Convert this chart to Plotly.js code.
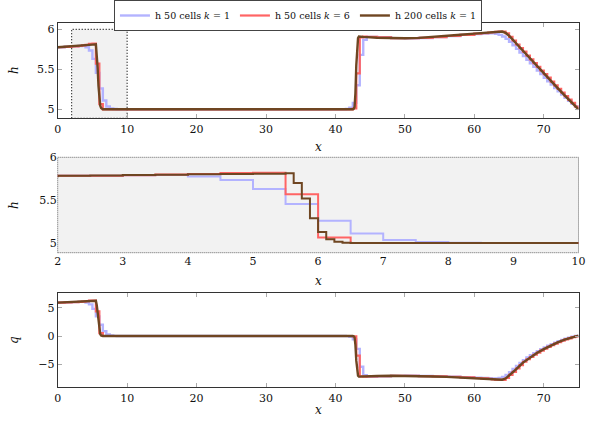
<!DOCTYPE html>
<html>
<head>
<meta charset="utf-8">
<script src="https://cdn.plot.ly/plotly-3.0.1.min.js"></script>
<style>
  html, body { margin: 0; padding: 0; background: #fff; }
  #plot { width: 590px; height: 424px; }
</style>
</head>
<body>
<div id="plot"></div>
<script>
// 50 cell runs (k=1 and k=6), sampled 3 per cell
const xCoarse = [0, 1, 2, 3, 3.5, 4, 4.5, 5, 5.5, 6, 6.5, 7, 7.5, 8, 8.5,
  41.5, 42, 42.5, 43, 43.5, 44, 44.5,
  46, 48, 50, 52, 54, 56, 58, 60, 61, 62,
  62.5, 63, 63.5, 64, 64.5, 65, 65.5, 66, 66.5, 67, 67.5, 68, 68.5, 69, 69.5,
  70, 70.5, 71, 71.5, 72, 72.5, 73, 73.5, 74, 74.5, 75];

const hBlue = [5.776, 5.781, 5.786, 5.792, 5.795, 5.775, 5.735, 5.63, 5.455, 5.26, 5.11, 5.035, 5.012, 5.004, 5.0,
  5.004, 5.02, 5.08, 5.3, 5.68, 5.87, 5.905,
  5.9, 5.89, 5.888, 5.892, 5.902, 5.915, 5.93, 5.942, 5.948, 5.95,
  5.95, 5.945, 5.93, 5.91, 5.88, 5.845, 5.8, 5.755, 5.71, 5.665, 5.62, 5.575, 5.53, 5.485, 5.44,
  5.395, 5.35, 5.31, 5.265, 5.225, 5.185, 5.145, 5.105, 5.07, 5.035, 5.01];

const hRed = [5.776, 5.781, 5.785, 5.791, 5.8, 5.805, 5.818, 5.82, 5.57, 5.065, 5.0, 5.0, 5.0, 5.0, 5.0,
  5.0, 5.0, 5.01, 5.45, 5.9, 5.91, 5.905,
  5.898, 5.89, 5.888, 5.893, 5.903, 5.916, 5.931, 5.946, 5.953, 5.96,
  5.963, 5.967, 5.972, 5.972, 5.95, 5.905, 5.86, 5.81, 5.765, 5.72, 5.67, 5.625, 5.577, 5.53, 5.485,
  5.44, 5.395, 5.345, 5.3, 5.255, 5.21, 5.165, 5.12, 5.08, 5.035, 5.0];

const qBlue = [5.95, 6.0, 6.05, 6.1, 6.12, 5.95, 5.65, 4.85, 3.5, 2.0, 0.85, 0.27, 0.09, 0.03, 0,
  -0.03, -0.15, -0.6, -2.3, -5.5, -7.0, -7.3,
  -7.2, -7.12, -7.1, -7.14, -7.2, -7.28, -7.37, -7.46, -7.5, -7.55,
  -7.6, -7.58, -7.48, -7.3, -6.95, -6.45, -5.9, -5.35, -4.8, -4.3, -3.85, -3.45, -3.05, -2.7, -2.35,
  -2.05, -1.75, -1.45, -1.2, -0.95, -0.72, -0.5, -0.3, -0.12, 0.0, 0.08];

const qRed = [5.95, 6.0, 6.05, 6.1, 6.15, 6.2, 6.3, 6.33, 4.4, 0.5, 0, 0, 0, 0, 0,
  0, 0, -0.08, -3.5, -7.2, -7.25, -7.22,
  -7.15, -7.1, -7.1, -7.15, -7.22, -7.3, -7.4, -7.5, -7.57, -7.65,
  -7.75, -7.82, -7.85, -7.85, -7.5, -6.95, -6.4, -5.8, -5.2, -4.6, -4.15, -3.75, -3.35, -2.97, -2.62,
  -2.28, -1.95, -1.65, -1.38, -1.1, -0.85, -0.62, -0.42, -0.2, -0.05, 0.05];

// 200 cell run (k=1)
const xFine = [0, 1, 2, 2.5, 3, 3.5, 4, 4.5, 5, 5.5, 5.625, 5.75, 5.875, 6, 6.125, 6.25, 6.375, 6.5,
  42.5, 42.625, 42.75, 42.875, 43, 43.125, 43.25, 43.375, 43.5, 44,
  46, 48, 50, 52, 54, 56, 58, 60, 62, 63, 63.5, 64, 64.5, 65,
  66, 67, 68, 69, 70, 71, 72, 73, 74, 75];

const hBrown = [5.775, 5.78, 5.786, 5.789, 5.793, 5.797, 5.801, 5.805, 5.809, 5.813, 5.70, 5.52, 5.29, 5.13, 5.045, 5.015, 5.003, 5.0,
  5.0, 5.005, 5.03, 5.2, 5.55, 5.8, 5.89, 5.91, 5.91, 5.905,
  5.895, 5.89, 5.888, 5.893, 5.903, 5.918, 5.932, 5.946, 5.96, 5.97, 5.975, 5.972, 5.955, 5.92,
  5.825, 5.73, 5.635, 5.54, 5.45, 5.355, 5.265, 5.175, 5.09, 5.0];

const qBrown = [5.95, 6.0, 6.05, 6.08, 6.1, 6.13, 6.17, 6.2, 6.25, 6.3, 5.5, 4.1, 2.3, 1.0, 0.35, 0.1, 0.02, 0,
  0, -0.04, -0.25, -1.6, -4.4, -6.4, -7.1, -7.25, -7.25, -7.22,
  -7.15, -7.1, -7.1, -7.15, -7.22, -7.3, -7.4, -7.5, -7.65, -7.73, -7.77, -7.8, -7.6, -7.1,
  -5.95, -4.75, -3.85, -3.05, -2.35, -1.7, -1.15, -0.65, -0.25, 0.05];

const names = ['h 50 cells <i>k</i> = 1', 'h 50 cells <i>k</i> = 6', 'h 200 cells <i>k</i> = 1'];
const colors = ['#b3b3ff', '#ff6464', '#6f4622'];

function mk(x, y, i, xa, ya, shape, w, legend) {
  return {
    x: x, y: y, xaxis: xa, yaxis: ya,
    type: 'scatter', mode: 'lines',
    line: {color: colors[i], width: w, shape: shape},
    name: names[i], showlegend: legend, hoverinfo: 'skip'
  };
}

const data = [
  mk(xCoarse, hBlue, 0, 'x', 'y', 'hv', 2.4, true),
  mk(xCoarse, hRed, 1, 'x', 'y', 'hv', 2.2, true),
  mk(xFine, hBrown, 2, 'x', 'y', 'linear', 2.4, true),

  mk(xCoarse, hBlue, 0, 'x2', 'y2', 'hv', 2, false),
  mk(xCoarse, hRed, 1, 'x2', 'y2', 'hv', 2, false),
  mk(xFine, hBrown, 2, 'x2', 'y2', 'hv', 2, false),

  mk(xCoarse, qBlue, 0, 'x3', 'y3', 'hv', 2.4, false),
  mk(xCoarse, qRed, 1, 'x3', 'y3', 'hv', 2.2, false),
  mk(xFine, qBrown, 2, 'x3', 'y3', 'linear', 2.4, false)
];

const serif = 'DejaVu Serif';
const tickFont = {family: serif, size: 11, color: '#111'};
const legFont = {family: serif, size: 9.5, color: '#111'};
const annFont = {family: serif, size: 12, color: '#111'};

function frameAxis(extra) {
  return Object.assign({
    showline: true, mirror: 'allticks', linecolor: '#333', linewidth: 1,
    ticks: 'inside', ticklen: 4, tickcolor: '#aaa', tickwidth: 1,
    showgrid: false, zeroline: false, tickfont: Object.assign({}, tickFont), fixedrange: true
  }, extra);
}

const xDom = [57.7 / 590, 578.5 / 590];

function label(txt, x, y, rot) {
  return {text: txt, xref: 'paper', yref: 'paper', x: x / 590, y: 1 - y / 424,
    xanchor: 'center', yanchor: 'middle', showarrow: false, textangle: rot, font: annFont};
}

const layout = {
  width: 590, height: 424,
  font: {family: serif, size: 11, color: '#111'},
  margin: {l: 0, r: 0, t: 0, b: 0},
  paper_bgcolor: '#fff', plot_bgcolor: 'rgba(0,0,0,0)',
  showlegend: true,
  legend: {
    orientation: 'h', x: 0.505, xanchor: 'center', y: 1, yanchor: 'top',
    bordercolor: '#444', borderwidth: 1, bgcolor: '#fff',
    font: legFont, itemwidth: 30, tracegroupgap: 0
  },
  xaxis: frameAxis({domain: xDom, anchor: 'y', range: [0, 75], tickvals: [0, 10, 20, 30, 40, 50, 60, 70]}),
  yaxis: frameAxis({domain: [1 - 118.3 / 424, 1 - 23.3 / 424], anchor: 'x', range: [4.8875, 6.075], tickvals: [5, 5.5, 6]}),
  xaxis2: {domain: xDom, anchor: 'y2', range: [2, 10], tickvals: [2, 3, 4, 5, 6, 7, 8, 9, 10],
    showline: false, ticks: '', showgrid: false, zeroline: false, tickfont: Object.assign({}, tickFont), fixedrange: true},
  yaxis2: {domain: [1 - 252.7 / 424, 1 - 157.3 / 424], anchor: 'x2', range: [4.8875, 6.0], tickvals: [5, 5.5, 6],
    showline: false, ticks: '', showgrid: false, zeroline: false, tickfont: Object.assign({}, tickFont), fixedrange: true},
  xaxis3: frameAxis({domain: xDom, anchor: 'y3', range: [0, 75], tickvals: [0, 10, 20, 30, 40, 50, 60, 70]}),
  yaxis3: frameAxis({domain: [1 - 387.3 / 424, 1 - 292.7 / 424], anchor: 'x3', range: [-9.16, 7.73], tickvals: [-5, 0, 5]}),
  shapes: [
    {type: 'rect', xref: 'x', yref: 'y', x0: 2, x1: 10, y0: 4.8875, y1: 6.0,
      fillcolor: '#f2f2f2', line: {color: '#111', width: 1.2, dash: '1px,2px'}, layer: 'below'},
    {type: 'rect', xref: 'x2 domain', yref: 'y2 domain', x0: 0, x1: 1, y0: 0, y1: 1,
      fillcolor: '#f2f2f2', line: {color: '#666', width: 1, dash: '1px,1px'}, layer: 'below'}
  ],
  annotations: [
    label('<i>h</i>', 14, 70, -90),
    label('<i>h</i>', 14, 205, -90),
    label('<i>q</i>', 14, 340, -90),
    label('<i>x</i>', 318, 147, 0),
    label('<i>x</i>', 318, 281, 0),
    label('<i>x</i>', 318, 410, 0)
  ]
};

Plotly.newPlot('plot', data, layout, {staticPlot: true, displayModeBar: false});
</script>
</body>
</html>
